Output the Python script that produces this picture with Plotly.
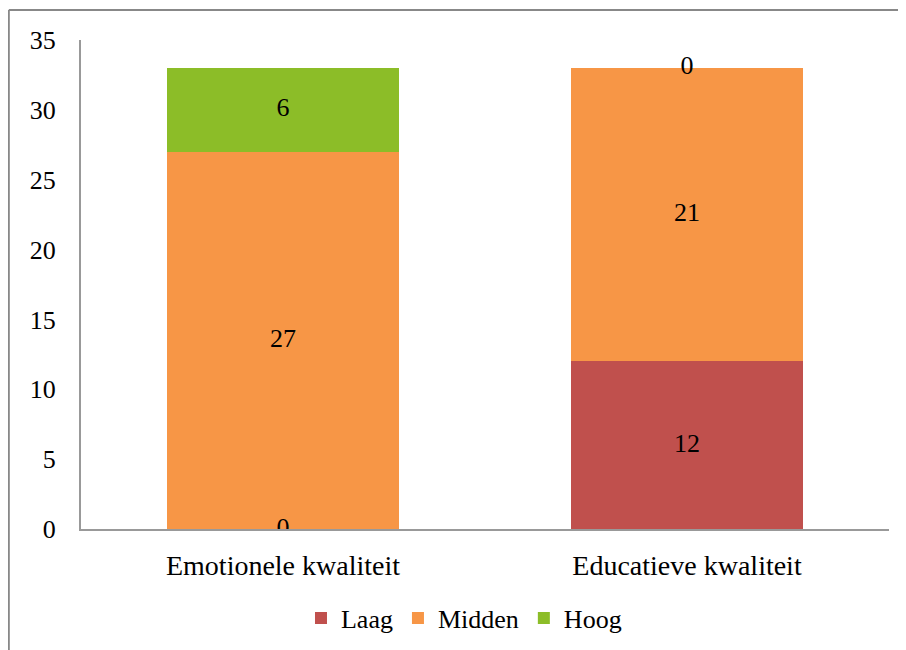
import plotly.graph_objects as go

categories = ["Emotionele kwaliteit", "Educatieve kwaliteit"]
series_names = ["Laag", "Midden", "Hoog"]
laag = [0, 12]
midden = [27, 21]
hoog = [6, 0]
colors = ["#C0504D", "#F79646", "#8CBD28"]
y_ticks = [0, 5, 10, 15, 20, 25, 30, 35]

series_values = [laag, midden, hoog]
FONT = "Liberation Serif"

fig = go.Figure()
for name, vals, col in zip(series_names, series_values, colors):
    fig.add_trace(go.Bar(
        x=categories, y=vals, name=name, marker_color=col,
        marker_line_width=0, textposition="none",
    ))

# data labels at segment midpoints
lab_x, lab_y, lab_t = [], [], []
for i, cat in enumerate(categories):
    base = 0
    for vals in series_values:
        v = vals[i]
        lab_x.append(cat)
        lab_y.append(base + v / 2)
        lab_t.append(str(v))
        base += v
fig.add_trace(go.Scatter(
    x=lab_x, y=lab_y, text=lab_t, mode="text", showlegend=False,
    textfont=dict(family=FONT, size=26, color="black"), hoverinfo="skip",
))

W, H = 906, 650
OFF = 8  # page body margin
L, T = 81 - OFF, 40 - OFF
pw, ph = 808, 489
R = W - L - pw
B = H - T - ph
bx = (8 - OFF - L) / pw + 0.001
ty = 1 + (T - (10 - OFF)) / ph

fig.update_layout(
    width=W, height=H,
    margin=dict(l=L, r=R, t=T, b=B),
    barmode="stack", bargap=0.426,
    plot_bgcolor="white", paper_bgcolor="white",
    font=dict(family=FONT, size=26, color="black"),
    showlegend=True,
    legend=dict(orientation="h", x=0.474, xanchor="center", y=-0.182, yanchor="middle",
                font=dict(family=FONT, size=26), itemwidth=30, traceorder="normal"),
    xaxis=dict(showline=True, linecolor="#999999", linewidth=2, showgrid=False,
               ticks="", ticklabelstandoff=10, tickfont=dict(family=FONT, size=28)),
    yaxis=dict(range=[0, 35], tickvals=y_ticks, showline=True, linecolor="#999999",
               linewidth=2, showgrid=False, zeroline=False, ticks="",
               ticklabelstandoff=18, tickfont=dict(family=FONT, size=26)),
    shapes=[
        dict(type="line", xref="paper", yref="paper", x0=bx, x1=1.2, y0=ty, y1=ty,
             line=dict(color="#888888", width=2)),
        dict(type="line", xref="paper", yref="paper", x0=bx, x1=bx, y0=ty, y1=-0.5,
             line=dict(color="#888888", width=2)),
    ],
)

fig.write_html("out.html")
